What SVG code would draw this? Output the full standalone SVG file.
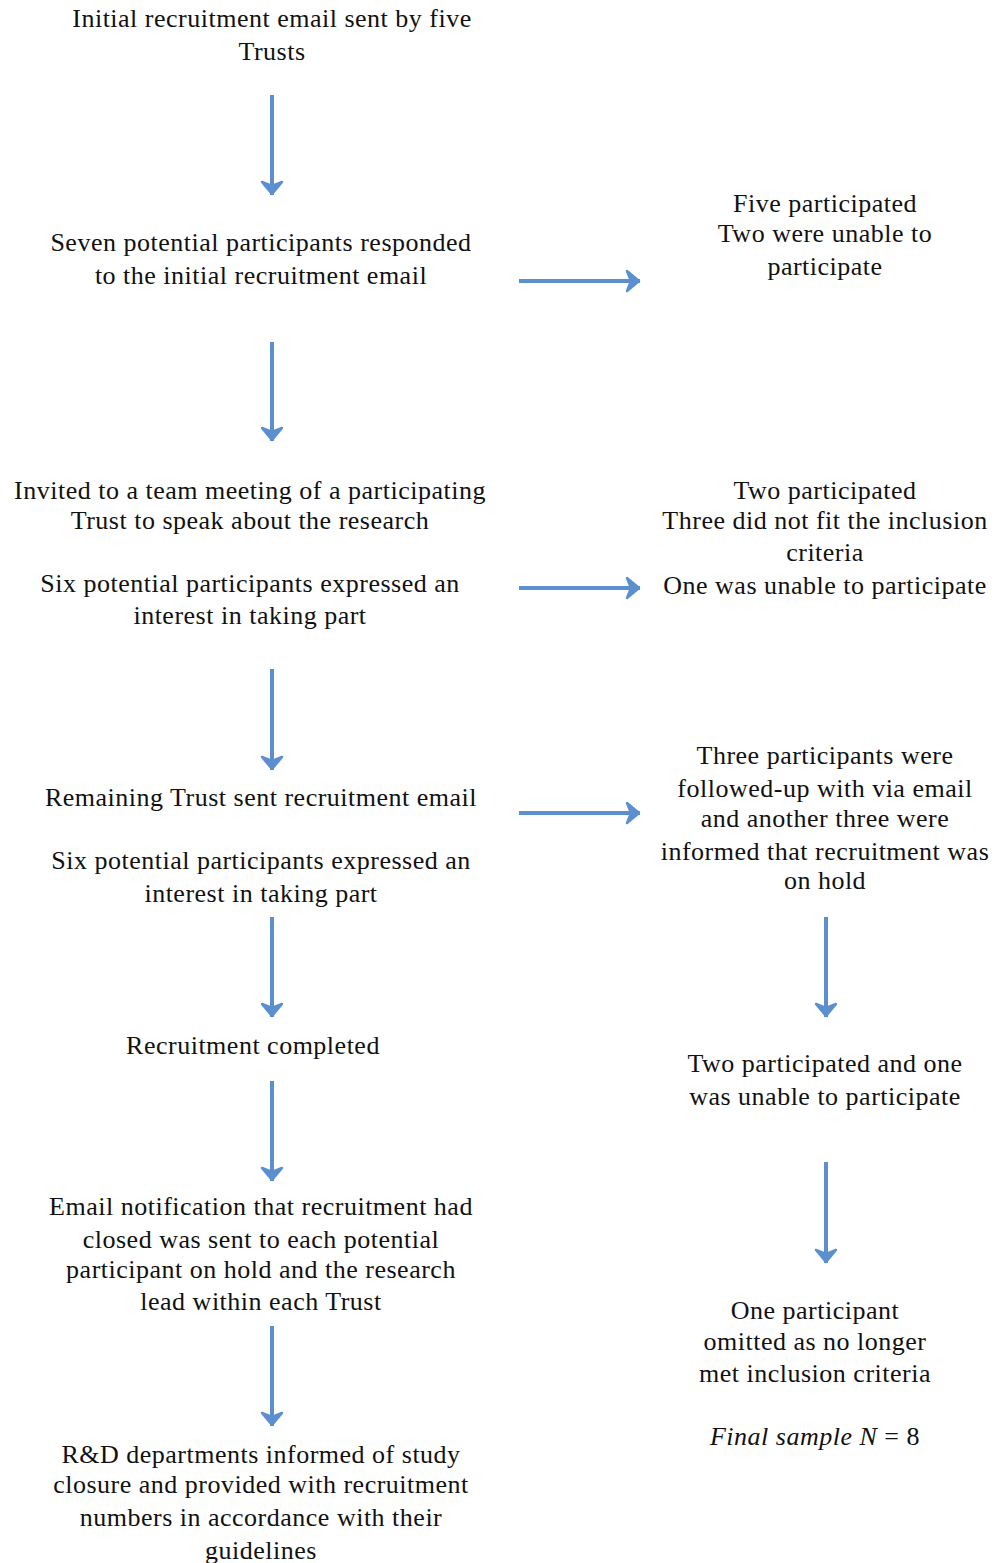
<svg xmlns="http://www.w3.org/2000/svg" width="1003" height="1563" viewBox="0 0 1003 1563">
<defs>
<style>
text{font-family:"Liberation Serif","Times New Roman",serif;font-size:26px;letter-spacing:0.5px;fill:#111;text-anchor:middle}
.c line{stroke:#5b8fd0;stroke-width:4;fill:none}
</style>
<marker id="ah" markerUnits="userSpaceOnUse" markerWidth="30" markerHeight="30" viewBox="-15 -15 30 30" refX="0" refY="0" orient="auto">
<path d="M-1,0 L-13,-10 L-9,0 L-13,10 Z" fill="#5b8fd0" stroke="#5b8fd0" stroke-width="2.5" stroke-linejoin="round"/>
</marker>
</defs>
<rect width="1003" height="1563" fill="#fff"/>
<g class="c" id="connectors">
<line x1="272" y1="95" x2="272" y2="195" marker-end="url(#ah)"/>
<line x1="272" y1="342" x2="272" y2="441" marker-end="url(#ah)"/>
<line x1="272" y1="669" x2="272" y2="770" marker-end="url(#ah)"/>
<line x1="272" y1="917" x2="272" y2="1017" marker-end="url(#ah)"/>
<line x1="272" y1="1081" x2="272" y2="1181" marker-end="url(#ah)"/>
<line x1="272" y1="1326" x2="272" y2="1426" marker-end="url(#ah)"/>
<line x1="826" y1="917" x2="826" y2="1017" marker-end="url(#ah)"/>
<line x1="826" y1="1162" x2="826" y2="1263" marker-end="url(#ah)"/>
<line x1="519" y1="281" x2="640" y2="281" marker-end="url(#ah)"/>
<line x1="519" y1="588" x2="640" y2="588" marker-end="url(#ah)"/>
<line x1="519" y1="813" x2="640" y2="813" marker-end="url(#ah)"/>
</g>
<g id="n1"><text x="272" y="27">Initial recruitment email sent by five</text><text x="272" y="60">Trusts</text></g>
<g id="n2"><text x="261" y="251">Seven potential participants responded</text><text x="261" y="284">to the initial recruitment email</text></g>
<g id="r1"><text x="825" y="212">Five participated</text><text x="825" y="242">Two were unable to</text><text x="825" y="275">participate</text></g>
<g id="n3"><text x="250" y="499">Invited to a team meeting of a participating</text><text x="250" y="529">Trust to speak about the research</text><text x="250" y="592">Six potential participants expressed an</text><text x="250" y="624">interest in taking part</text></g>
<g id="r2"><text x="825" y="499">Two participated</text><text x="825" y="529">Three did not fit the inclusion</text><text x="825" y="561">criteria</text><text x="825" y="594">One was unable to participate</text></g>
<g id="n4"><text x="261" y="806">Remaining Trust sent recruitment email</text><text x="261" y="869">Six potential participants expressed an</text><text x="261" y="902">interest in taking part</text></g>
<g id="r3"><text x="825" y="764">Three participants were</text><text x="825" y="797">followed-up with via email</text><text x="825" y="827">and another three were</text><text x="825" y="860">informed that recruitment was</text><text x="825" y="889">on hold</text></g>
<g id="n5"><text x="253" y="1054">Recruitment completed</text></g>
<g id="r4"><text x="825" y="1072">Two participated and one</text><text x="825" y="1105">was unable to participate</text></g>
<g id="n6"><text x="261" y="1215">Email notification that recruitment had</text><text x="261" y="1248">closed was sent to each potential</text><text x="261" y="1278">participant on hold and the research</text><text x="261" y="1310">lead within each Trust</text></g>
<g id="r5"><text x="815" y="1319">One participant</text><text x="815" y="1350">omitted as no longer</text><text x="815" y="1382">met inclusion criteria</text><text x="815" y="1445"><tspan font-style="italic">Final sample N</tspan> = 8</text></g>
<g id="n7"><text x="261" y="1463">R&amp;D departments informed of study</text><text x="261" y="1493">closure and provided with recruitment</text><text x="261" y="1526">numbers in accordance with their</text><text x="261" y="1559">guidelines</text></g>
</svg>
